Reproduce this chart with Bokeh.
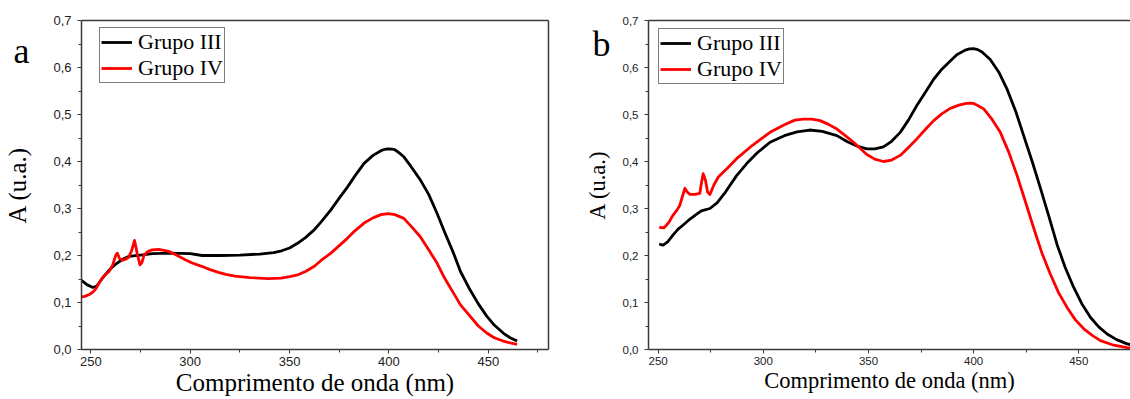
from bokeh.plotting import figure
from bokeh.layouts import row
from bokeh.models import LinearAxis, Legend, LegendItem, FixedTicker, Range1d
from bokeh.embed import file_html
from bokeh.resources import INLINE

# ---- Panel a data ----
wl_a_g3 = [245.3, 248, 251, 253, 256, 259, 262, 266, 269, 275, 281, 290, 300, 306, 315, 325, 335, 342, 346,
           350, 354, 358, 362.5, 366, 370.8, 375, 379.2, 383, 387.5, 392, 396, 398, 399.5, 401.5, 403, 405,
           407.5, 411, 415.8, 420, 424.2, 428, 432.5, 436, 440.8, 445, 449.2, 453, 457.5, 461, 464.5]
abs_a_g3 = [0.147, 0.138, 0.132, 0.135, 0.153, 0.168, 0.180, 0.192, 0.198, 0.201, 0.204, 0.205, 0.204, 0.200,
            0.200, 0.201, 0.203, 0.206, 0.210, 0.216, 0.226, 0.238, 0.255, 0.272, 0.297, 0.322, 0.346, 0.370,
            0.396, 0.413, 0.423, 0.426, 0.427, 0.4265, 0.425, 0.419, 0.410, 0.390, 0.361, 0.330, 0.290, 0.250,
            0.205, 0.166, 0.127, 0.097, 0.071, 0.052, 0.035, 0.025, 0.018]
wl_a_g4 = [245.3, 247, 249.2, 251, 252.5, 254, 255.8, 257.5, 259.2, 261, 262.5, 263.3, 264.5, 266, 267.5, 269,
           270.5, 272, 273.3, 274.7, 275.7, 276.7, 278.5, 280.8, 284.2, 289.2, 293, 297.5, 301, 305.8, 310,
           314.2, 318, 322.5, 330, 339.2, 345.8, 350, 354.2, 358, 362.5, 366, 370.8, 375, 379.2, 383, 387.5,
           392, 396, 399.5, 403, 407.5, 411, 415.8, 420, 424.2, 428, 432.5, 436, 440.8, 445, 449.2, 453,
           457.5, 461, 464.5]
abs_a_g4 = [0.112, 0.113, 0.117, 0.122, 0.129, 0.140, 0.152, 0.160, 0.166, 0.180, 0.200, 0.205, 0.193, 0.190,
            0.192, 0.196, 0.210, 0.232, 0.205, 0.180, 0.185, 0.200, 0.208, 0.212, 0.213, 0.209, 0.201, 0.191,
            0.184, 0.177, 0.170, 0.164, 0.160, 0.156, 0.153, 0.151, 0.152, 0.155, 0.159, 0.166, 0.177, 0.190,
            0.205, 0.221, 0.237, 0.253, 0.269, 0.280, 0.287, 0.289, 0.287, 0.279, 0.263, 0.240, 0.212, 0.184,
            0.152, 0.120, 0.095, 0.071, 0.050, 0.035, 0.025, 0.018, 0.014, 0.011]

# ---- Panel b data ----
wl_b_g3 = [250.5, 252.4, 254.5, 257.1, 259.5, 261.9, 265, 268, 270.5, 274.6, 278, 282, 287.3, 292, 297, 303.2,
           310, 316, 322, 328, 335, 340, 345, 349.2, 353, 357.1, 361, 365.1, 369, 373, 377, 381, 385, 388.9,
           392, 396, 398, 400, 402, 404, 407.9, 412, 415.9, 420, 423.8, 428, 431.8, 436, 439.7, 443.5, 447.6,
           451.5, 455.6, 459.5, 463.5, 468, 473, 478]
abs_b_g3 = [0.224, 0.222, 0.229, 0.244, 0.256, 0.265, 0.277, 0.287, 0.295, 0.300, 0.312, 0.335, 0.370, 0.395,
            0.418, 0.441, 0.455, 0.463, 0.467, 0.464, 0.455, 0.442, 0.432, 0.427, 0.427, 0.431, 0.443, 0.462,
            0.488, 0.519, 0.547, 0.575, 0.597, 0.614, 0.627, 0.637, 0.6395, 0.640, 0.638, 0.633, 0.617, 0.590,
            0.554, 0.507, 0.455, 0.398, 0.343, 0.280, 0.223, 0.175, 0.132, 0.097, 0.068, 0.048, 0.033, 0.021,
            0.012, 0.007]
wl_b_g4 = [250.5, 252.8, 255, 257.1, 259, 260.3, 261.5, 262.7, 263.8, 265.1, 267.5, 269.8, 270.6, 271.4, 272.5,
           273.5, 274.6, 276.5, 278.6, 283, 287.3, 295, 303.2, 310, 315, 319, 323, 327, 331, 335, 339, 342.9,
           346, 349.2, 353, 357.1, 361, 365.1, 369, 373, 377, 381, 385, 388.9, 393, 396, 398.1, 400, 401.5,
           404.8, 408.7, 412.7, 416.7, 420.6, 424.6, 428.6, 432.5, 436.5, 440.5, 444.5, 448.4, 452.4, 456.4,
           460.3, 466, 473, 478]
abs_b_g4 = [0.260, 0.259, 0.270, 0.286, 0.297, 0.307, 0.325, 0.343, 0.335, 0.330, 0.330, 0.332, 0.355, 0.374,
            0.360, 0.335, 0.330, 0.350, 0.367, 0.386, 0.406, 0.435, 0.462, 0.478, 0.488, 0.490, 0.490, 0.487,
            0.479, 0.469, 0.455, 0.441, 0.428, 0.415, 0.405, 0.400, 0.403, 0.413, 0.430, 0.448, 0.468, 0.487,
            0.502, 0.513, 0.520, 0.523, 0.524, 0.5235, 0.520, 0.512, 0.490, 0.462, 0.420, 0.371, 0.315, 0.258,
            0.205, 0.160, 0.120, 0.089, 0.063, 0.044, 0.030, 0.019, 0.010, 0.004, 0.002]

series_names = ["Grupo III", "Grupo IV"]
series_colors = ["#000000", "#ff0000"]
x_ticks = [250, 300, 350, 400, 450]
y_ticks = [0.0, 0.1, 0.2, 0.3, 0.4, 0.5, 0.6, 0.7]
y_tick_labels = ["0,0", "0,1", "0,2", "0,3", "0,4", "0,5", "0,6", "0,7"]
x_title = "Comprimento de onda (nm)"
y_title = "A (u.a.)"
panel_letters = ["a", "b"]

SANS = "Liberation Sans"
SERIF = "Liberation Serif"
AX = "#3a3a3a"


def style_axis(ax, tick_size, title_size, standoff, label_standoff):
    ax.axis_line_color = AX
    ax.axis_line_width = 1.5
    ax.major_tick_line_color = AX
    ax.minor_tick_line_color = AX
    ax.major_tick_out = 4
    ax.major_tick_in = 0
    ax.minor_tick_out = 3
    ax.minor_tick_in = 0
    ax.major_label_text_font = SANS
    ax.major_label_text_font_size = tick_size
    ax.major_label_text_color = "#222222"
    ax.axis_label_text_font = SERIF
    ax.axis_label_text_font_style = "normal"
    ax.axis_label_text_font_size = title_size
    ax.axis_label_text_color = "#000000"
    ax.axis_label_standoff = standoff
    ax.major_label_standoff = label_standoff


def frame_axis(p, side):
    ax = LinearAxis(ticker=FixedTicker(ticks=[], minor_ticks=[]))
    ax.axis_line_color = AX
    ax.axis_line_width = 1.5
    ax.major_tick_out = 0
    ax.minor_tick_out = 0
    p.add_layout(ax, side)


def make_panel(wls, vals, xr, width, mb_left, mb_right, mb_top, mb_bottom, tick_size, title_size,
               legend_loc, letter, letter_y, letter_standoff, right_axis):
    p = figure(width=width, height=399, output_backend="svg", toolbar_location=None,
               x_range=Range1d(*xr), y_range=Range1d(0.0, 0.7),
               min_border_left=mb_left, min_border_right=mb_right,
               min_border_top=mb_top, min_border_bottom=mb_bottom)
    p.outline_line_color = None
    p.grid.visible = False
    p.background_fill_color = "white"
    p.border_fill_color = "white"

    p.xaxis.ticker = FixedTicker(ticks=x_ticks, minor_ticks=[225, 275, 325, 375, 425, 475])
    p.yaxis.ticker = FixedTicker(ticks=y_ticks, minor_ticks=[0.05, 0.15, 0.25, 0.35, 0.45, 0.55, 0.65])
    p.yaxis.major_label_overrides = {t: l for t, l in zip(y_ticks, y_tick_labels)}
    p.xaxis.axis_label = x_title
    style_axis(p.xaxis[0], tick_size, title_size, 0, 3)
    style_axis(p.yaxis[0], tick_size, title_size, 0, 6)

    # outer left axis: carries the panel letter (as its single tick label) and the y title
    outer = LinearAxis(ticker=FixedTicker(ticks=[letter_y], minor_ticks=[]),
                       major_label_overrides={letter_y: letter})
    outer.axis_line_color = None
    outer.major_tick_line_color = None
    outer.minor_tick_line_color = None
    outer.major_tick_out = 0
    outer.minor_tick_out = 0
    outer.major_label_text_font = SERIF
    outer.major_label_text_font_size = "36px"
    outer.major_label_text_color = "#000000"
    outer.major_label_standoff = letter_standoff
    outer.axis_label = y_title
    outer.axis_label_text_font = SERIF
    outer.axis_label_text_font_style = "normal"
    outer.axis_label_text_font_size = title_size
    outer.axis_label_text_color = "#000000"
    outer.axis_label_standoff = -20
    p.add_layout(outer, "left")

    frame_axis(p, "above")
    if right_axis:
        frame_axis(p, "right")

    items = []
    for w, v, name, c in zip(wls, vals, series_names, series_colors):
        r = p.line(w, v, line_color=c, line_width=2.8, line_join="round")
        items.append(LegendItem(label=name, renderers=[r]))
    leg = Legend(items=items, location=legend_loc)
    leg.label_text_font = SERIF
    leg.label_text_font_size = "22px"
    leg.label_text_color = "#000000"
    leg.label_height = 24
    leg.glyph_height = 24
    leg.glyph_width = 31
    leg.spacing = 0
    leg.padding = 1
    leg.margin = 0
    leg.label_standoff = 6
    leg.border_line_color = "#000000"
    leg.border_line_width = 1
    leg.background_fill_alpha = 1
    p.add_layout(leg, "center")
    return p


pa = make_panel([wl_a_g3, wl_a_g4], [abs_a_g3, abs_a_g4], (245.3, 480.3), 565, 79, 17, 20, 49,
                "13px", "25px", (18, 266), panel_letters[0], 0.636, 21, True)
pb = make_panel([wl_b_g3, wl_b_g4], [abs_b_g3, abs_b_g4], (245.4, 474.6), 565, 83, 0, 17, 50,
                "11.5px", "22.5px", (10, 265), panel_letters[1], 0.649, 9, False)

layout = row(pa, pb, spacing=0)
open("out.html", "w").write(file_html(layout, INLINE))
